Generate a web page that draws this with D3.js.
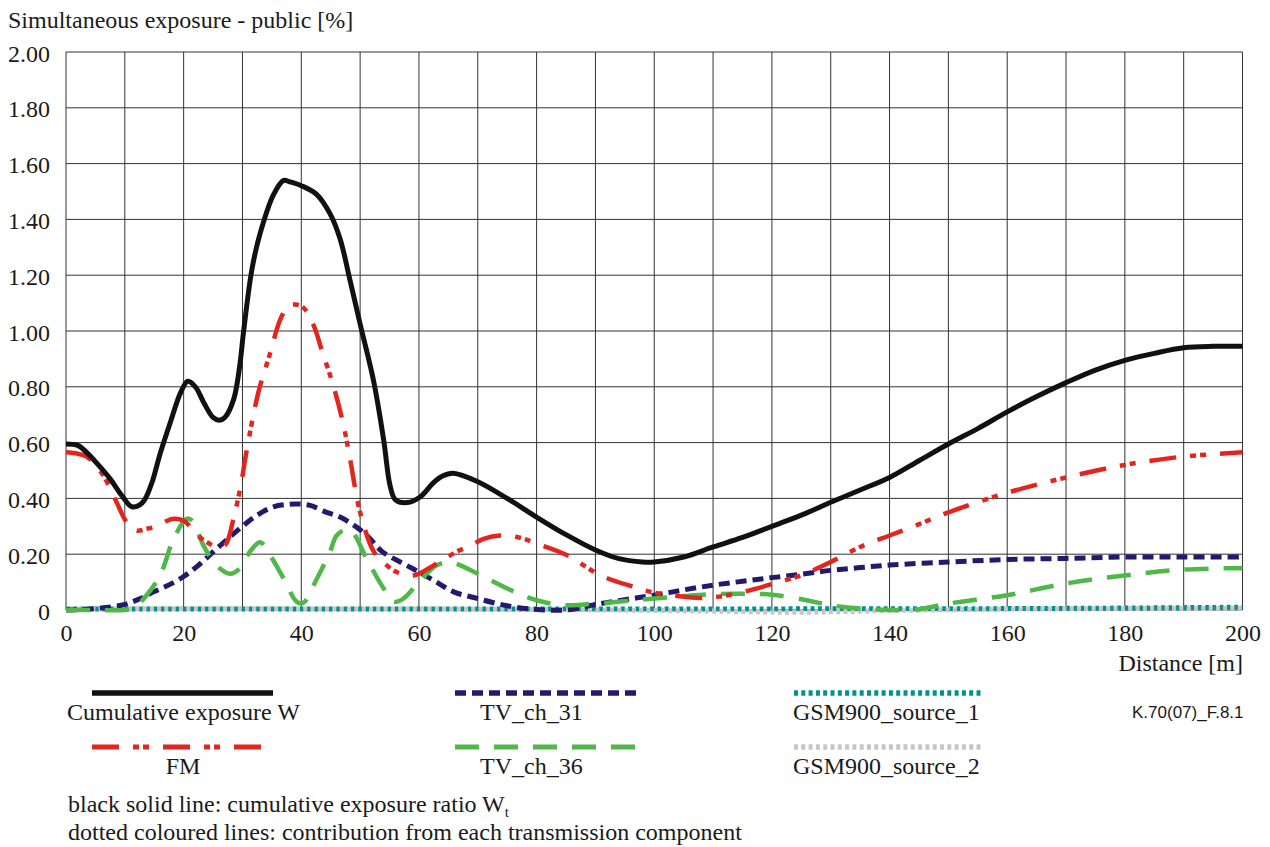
<!DOCTYPE html>
<html>
<head>
<meta charset="utf-8">
<script src="https://cdn.jsdelivr.net/npm/d3@7"></script>
<style>
  html, body { margin: 0; padding: 0; background: #fff; }
  svg { display: block; }
  text { font-family: "Liberation Serif", "Times New Roman", Times, serif; fill: #1a1a1a; }
</style>
</head>
<body>
<svg id="chart" width="1270" height="847"></svg>
<script>
// ---- Data: simultaneous exposure versus distance ----
const xTicks = [0, 20, 40, 60, 80, 100, 120, 140, 160, 180, 200];
const yTicks = [0, 0.2, 0.4, 0.6, 0.8, 1.0, 1.2, 1.4, 1.6, 1.8, 2.0];

const cumDist = [0, 2, 3.5, 5.5, 7.5, 9.5, 11.2, 13, 14.5, 16, 17.7, 19.5, 20.7, 22, 23.5, 25, 26, 27, 28.5, 29.5, 30.2, 31.6, 33, 35.3, 37, 38, 40.1, 42.6, 44.9, 46.6, 48.3, 50, 52.3, 54, 55.1, 56, 58, 60.2, 62.4, 64, 65.8, 70, 75, 80, 85, 90, 94, 98, 100, 105, 110, 115, 120, 125, 130, 135, 140, 145, 150, 155, 160, 165, 170, 175, 180, 185, 190, 195, 200];
const cumValue = [0.595, 0.59, 0.565, 0.52, 0.47, 0.41, 0.37, 0.385, 0.45, 0.56, 0.67, 0.78, 0.82, 0.80, 0.74, 0.69, 0.68, 0.69, 0.755, 0.87, 1.0, 1.22, 1.35, 1.49, 1.54, 1.535, 1.52, 1.49, 1.42, 1.33, 1.18, 1.025, 0.82, 0.61, 0.445, 0.395, 0.385, 0.405, 0.455, 0.48, 0.49, 0.46, 0.40, 0.333, 0.27, 0.215, 0.184, 0.172, 0.172, 0.19, 0.226, 0.26, 0.30, 0.34, 0.386, 0.43, 0.475, 0.535, 0.595, 0.65, 0.71, 0.765, 0.815, 0.86, 0.895, 0.92, 0.94, 0.945, 0.945];

const fmDist = [0, 2, 3.5, 5, 6.4, 8.6, 10.3, 12, 13.5, 15.4, 17, 18.3, 20, 21.5, 22.8, 24.2, 25.6, 26.5, 27.3, 28.5, 29.7, 30.7, 32.7, 34.7, 36.4, 37.8, 39, 40.4, 42.1, 43.5, 45.5, 47.2, 48.3, 50, 52.3, 54, 56.2, 59.1, 62.5, 66.5, 68.7, 71, 73.8, 77, 80, 85.2, 90.9, 96.5, 100, 103.9, 107.8, 111, 114.5, 117, 119.5, 122, 124.9, 130, 135, 140, 144.7, 150, 160, 170, 180, 190, 200];
const fmValue = [0.565, 0.56, 0.55, 0.52, 0.48, 0.386, 0.315, 0.285, 0.29, 0.30, 0.318, 0.327, 0.32, 0.29, 0.26, 0.24, 0.225, 0.225, 0.24, 0.33, 0.445, 0.57, 0.78, 0.92, 1.04, 1.09, 1.095, 1.083, 1.02, 0.93, 0.80, 0.66, 0.54, 0.35, 0.21, 0.17, 0.136, 0.124, 0.16, 0.21, 0.23, 0.255, 0.267, 0.26, 0.238, 0.196, 0.124, 0.083, 0.062, 0.05, 0.043, 0.048, 0.062, 0.075, 0.09, 0.105, 0.124, 0.172, 0.226, 0.267, 0.305, 0.35, 0.42, 0.475, 0.52, 0.55, 0.565];

const tv31Dist = [0, 3, 6.4, 10, 12.5, 14.9, 17.5, 20, 22.5, 25.1, 27.5, 30, 32.5, 35.3, 37.5, 39.2, 41.5, 44.3, 46.6, 49.4, 51.5, 53.7, 57, 60, 63, 65.9, 70, 75, 80, 85, 90, 95, 100, 105, 110, 115, 120, 125, 130, 135, 140, 150, 160, 170, 180, 190, 200];
const tv31Value = [0, 0.002, 0.008, 0.02, 0.04, 0.065, 0.09, 0.12, 0.16, 0.21, 0.255, 0.30, 0.34, 0.37, 0.378, 0.38, 0.375, 0.35, 0.333, 0.297, 0.26, 0.21, 0.17, 0.136, 0.10, 0.065, 0.041, 0.015, 0.002, 0.0, 0.02, 0.037, 0.053, 0.072, 0.089, 0.103, 0.116, 0.128, 0.142, 0.152, 0.161, 0.172, 0.181, 0.185, 0.19, 0.19, 0.19];

const tv36Dist = [0, 5, 10, 11.4, 13.7, 16, 18.3, 20.5, 21.5, 23.4, 25.6, 27.9, 29.6, 31.3, 33, 34.7, 37, 39.2, 40.3, 42.6, 44.9, 46, 47.7, 48.7, 51.1, 54, 55.7, 57.3, 60, 63, 65.5, 70, 75, 80, 85, 90, 96.5, 100, 105, 110, 115, 120, 125.9, 130, 135, 140, 145, 150, 160, 170, 180, 190, 200];
const tv36Value = [0, 0, 0, 0.005, 0.053, 0.124, 0.255, 0.327, 0.32, 0.23, 0.16, 0.13, 0.15, 0.21, 0.243, 0.196, 0.113, 0.03, 0.025, 0.11, 0.21, 0.267, 0.29, 0.28, 0.184, 0.077, 0.03, 0.04, 0.1, 0.16, 0.17, 0.13, 0.077, 0.035, 0.017, 0.023, 0.035, 0.041, 0.05, 0.057, 0.058, 0.055, 0.035, 0.017, 0.005, 0, 0.003, 0.023, 0.053, 0.095, 0.124, 0.145, 0.15];

const gsm1Dist = [0, 40, 80, 120, 160, 180, 200];
const gsm1Value = [0.004, 0.004, 0.004, 0.004, 0.005, 0.007, 0.01];

const gsm2Dist = [0, 40, 80, 110, 125, 140, 160, 200];
const gsm2Value = [0.004, 0.004, 0.002, -0.004, -0.008, -0.002, 0.003, 0.006];

// ---- Series styling ----
const series = [
  { name: "GSM900_source_1", dist: gsm1Dist, value: gsm1Value, color: "#00928c", width: 5, dash: "4,3.3" },
  { name: "GSM900_source_2", dist: gsm2Dist, value: gsm2Value, color: "#c6c6c6", width: 5, dash: "4,3.3", offset: 3.6 },
  { name: "TV_ch_31", dist: tv31Dist, value: tv31Value, color: "#231a6e", width: 5, dash: "11,6" },
  { name: "TV_ch_36", dist: tv36Dist, value: tv36Value, color: "#4fb848", width: 4.5, dash: "24,15" },
  { name: "FM", dist: fmDist, value: fmValue, color: "#e2261f", width: 4.5, dash: "27,14,6,4,6,14" },
  { name: "Cumulative exposure W", dist: cumDist, value: cumValue, color: "#111111", width: 5, dash: null }
];

// ---- Layout ----
const svg = d3.select("#chart");
const x = d3.scaleLinear().domain([0, 200]).range([66, 1242.5]);
const y = d3.scaleLinear().domain([0, 2]).range([610, 52]);

// Grid
const grid = svg.append("g").attr("stroke", "#333").attr("stroke-width", 1);
grid.selectAll("line.v").data(d3.range(0, 201, 10)).join("line")
  .attr("x1", d => x(d)).attr("x2", d => x(d))
  .attr("y1", y(0)).attr("y2", y(2));
grid.selectAll("line.h").data(yTicks).join("line")
  .attr("x1", x(0)).attr("x2", x(200))
  .attr("y1", d => y(d)).attr("y2", d => y(d));

// Axis labels
const fmtY = d => d === 0 ? "0" : d3.format(".2f")(d);
const yAxis = d3.axisLeft(y).tickValues(yTicks).tickFormat(fmtY).tickSize(0).tickPadding(16);
const yG = svg.append("g").attr("transform", `translate(${x(0)},0)`).call(yAxis);
yG.attr("font-family", null);
yG.select(".domain").remove();
yG.selectAll("text").attr("font-size", 24).attr("fill", "#1a1a1a").attr("dy", "0.38em");

const xAxis = d3.axisBottom(x).tickValues(xTicks).tickFormat(d3.format("d")).tickSize(0).tickPadding(14);
const xG = svg.append("g").attr("transform", `translate(0,${y(0)})`).call(xAxis);
xG.attr("font-family", null);
xG.select(".domain").remove();
xG.selectAll("text").attr("font-size", 24).attr("fill", "#1a1a1a");

// Series lines
const line = d3.line()
  .x(d => x(d[0]))
  .y(d => y(d[1]))
  .curve(d3.curveCatmullRom.alpha(0.5));

const plotted = svg.append("g").attr("fill", "none");
series.forEach(s => {
  const pts = s.dist.map((d, i) => [d, s.value[i]]);
  plotted.append("path")
    .datum(pts)
    .attr("d", line)
    .attr("stroke", s.color)
    .attr("stroke-width", s.width)
    .attr("stroke-dasharray", s.dash)
    .attr("stroke-dashoffset", s.offset || 0)
    .attr("stroke-linejoin", "round");
});

// Titles
svg.append("text").attr("x", 8).attr("y", 28).attr("font-size", 24)
  .text("Simultaneous exposure - public [%]");
svg.append("text").attr("x", 1243).attr("y", 671).attr("font-size", 24)
  .attr("text-anchor", "end").text("Distance [m]");

// Legend
const legendItems = [
  { s: "Cumulative exposure W", x1: 92, x2: 273, ly: 693, tx: 67, ty: 720, anchor: "start" },
  { s: "FM", x1: 92, x2: 270, ly: 747, tx: 183, ty: 774, anchor: "middle" },
  { s: "TV_ch_31", x1: 455, x2: 636, ly: 693, tx: 480, ty: 720, anchor: "start" },
  { s: "TV_ch_36", x1: 455, x2: 636, ly: 747, tx: 480, ty: 774, anchor: "start" },
  { s: "GSM900_source_1", x1: 794, x2: 981, ly: 693, tx: 793, ty: 720, anchor: "start" },
  { s: "GSM900_source_2", x1: 794, x2: 981, ly: 747, tx: 793, ty: 774, anchor: "start" }
];
const legend = svg.append("g");
legendItems.forEach(item => {
  const s = series.find(d => d.name === item.s);
  legend.append("line")
    .attr("x1", item.x1).attr("x2", item.x2)
    .attr("y1", item.ly).attr("y2", item.ly)
    .attr("stroke", s.color)
    .attr("stroke-width", s.width + 0.5)
    .attr("stroke-dasharray", s.dash);
  legend.append("text")
    .attr("x", item.tx).attr("y", item.ty)
    .attr("font-size", 24)
    .attr("text-anchor", item.anchor)
    .text(s.name);
});

svg.append("text").attr("x", 1132).attr("y", 718).attr("font-size", 17)
  .style("font-family", "'Liberation Sans', Arial, sans-serif")
  .text("K.70(07)_F.8.1");

// Notes
const note1 = svg.append("text").attr("x", 68).attr("y", 812).attr("font-size", 24);
note1.append("tspan").text("black solid line: cumulative exposure ratio W");
note1.append("tspan").attr("font-size", 15).attr("dy", 5).text("t");
svg.append("text").attr("x", 68).attr("y", 840).attr("font-size", 24)
  .text("dotted coloured lines: contribution from each transmission component");
</script>
</body>
</html>
